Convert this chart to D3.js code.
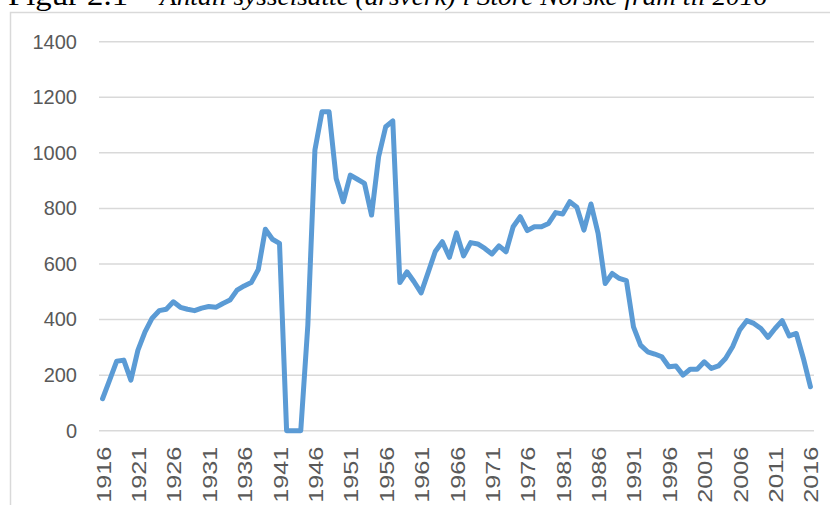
<!DOCTYPE html>
<html>
<head>
<meta charset="utf-8">
<script src="https://cdn.jsdelivr.net/npm/d3@7"></script>
<style>
  html, body { margin: 0; padding: 0; background: #fff; overflow: hidden; }
  svg { display: block; }
</style>
</head>
<body>
<svg id="chart" width="830" height="505"></svg>
<script>
const years = [
  1916,1917,1918,1919,1920,1921,1922,1923,1924,1925,
  1926,1927,1928,1929,1930,1931,1932,1933,1934,1935,
  1936,1937,1938,1939,1940,1941,1942,1943,1944,1945,
  1946,1947,1948,1949,1950,1951,1952,1953,1954,1955,
  1956,1957,1958,1959,1960,1961,1962,1963,1964,1965,
  1966,1967,1968,1969,1970,1971,1972,1973,1974,1975,
  1976,1977,1978,1979,1980,1981,1982,1983,1984,1985,
  1986,1987,1988,1989,1990,1991,1992,1993,1994,1995,
  1996,1997,1998,1999,2000,2001,2002,2003,2004,2005,
  2006,2007,2008,2009,2010,2011,2012,2013,2014,2015,
  2016
];
const employees = [
  115,182,250,254,182,290,356,405,432,437,
  464,444,437,432,441,447,444,458,470,506,
  521,533,580,725,689,674,0,0,0,380,
  1010,1148,1148,908,824,920,905,890,776,986,
  1094,1115,533,572,536,496,570,645,680,624,
  712,629,677,672,656,636,665,644,734,770,
  720,734,734,746,785,780,824,804,722,816,
  710,530,566,548,540,374,308,284,276,266,
  230,233,200,221,221,248,224,233,260,302,
  362,396,386,368,336,368,396,341,350,260,
  158
];
const yTicks = [0,200,400,600,800,1000,1200,1400];
const xTickLabels = [1916,1921,1926,1931,1936,1941,1946,1951,1956,1961,1966,1971,1976,1981,1986,1991,1996,2001,2006,2011,2016];
const titlePrefix = "Figur 2.1";
const titleText = "Antall sysselsatte (årsverk) i Store Norske fram til 2016";

const svg = d3.select("#chart");

// chart area border
svg.append("rect")
  .attr("x", 10.5).attr("y", 12.5)
  .attr("width", 900).attr("height", 600)
  .attr("fill", "none")
  .attr("stroke", "#d9d9d9")
  .attr("stroke-width", 1.5);

// title (partly cut off at the top, as in the reference)
svg.append("text")
  .attr("x", 8).attr("y", 5)
  .attr("font-family", "Liberation Serif, serif")
  .attr("font-size", 30)
  .attr("fill", "#000")
  .attr("textLength", 120)
  .attr("lengthAdjust", "spacingAndGlyphs")
  .text(titlePrefix);
svg.append("text")
  .attr("x", 160).attr("y", 5)
  .attr("font-family", "Liberation Serif, serif")
  .attr("font-style", "italic")
  .attr("font-size", 26)
  .attr("fill", "#000")
  .attr("textLength", 607)
  .attr("lengthAdjust", "spacingAndGlyphs")
  .text(titleText);

const x = d3.scalePoint()
  .domain(years)
  .range([99, 814])
  .padding(0.5);

const y = d3.scaleLinear()
  .domain([0, 1400])
  .range([430.7, 41.7]);

// gridlines
svg.append("g")
  .selectAll("line")
  .data(yTicks)
  .join("line")
  .attr("x1", 99).attr("x2", 814)
  .attr("y1", d => y(d)).attr("y2", d => y(d))
  .attr("stroke", "#d9d9d9")
  .attr("stroke-width", 1.5);

// y axis labels
const yAxis = d3.axisLeft(y).tickValues(yTicks).tickSize(0).tickPadding(0).tickFormat(d3.format("d"));
const gy = svg.append("g").attr("transform", "translate(77,0)").call(yAxis);
gy.select(".domain").remove();
gy.selectAll("text")
  .attr("font-family", "Liberation Sans, Arial, sans-serif")
  .attr("font-size", 20)
  .attr("fill", "#595959");

// x axis labels
const xAxis = d3.axisBottom(x).tickValues(xTickLabels).tickSize(0).tickFormat(d3.format("d"));
const gx = svg.append("g").attr("transform", "translate(0,430.7)").call(xAxis);
gx.select(".domain").remove();
gx.selectAll(".tick text")
  .attr("font-family", "Liberation Sans, Arial, sans-serif")
  .attr("font-size", 20)
  .attr("fill", "#595959")
  .attr("text-anchor", "end")
  .attr("dy", null)
  .attr("y", 0)
  .attr("x", 0)
  .attr("transform", "translate(7.5,16) rotate(-90)")
  .attr("textLength", 56)
  .attr("lengthAdjust", "spacingAndGlyphs");

// line
const line = d3.line()
  .x((d, i) => x(years[i]))
  .y(d => y(d));

svg.append("path")
  .datum(employees)
  .attr("d", line)
  .attr("fill", "none")
  .attr("stroke", "#5B9BD5")
  .attr("stroke-width", 5)
  .attr("stroke-linejoin", "round")
  .attr("stroke-linecap", "round");
</script>
</body>
</html>
